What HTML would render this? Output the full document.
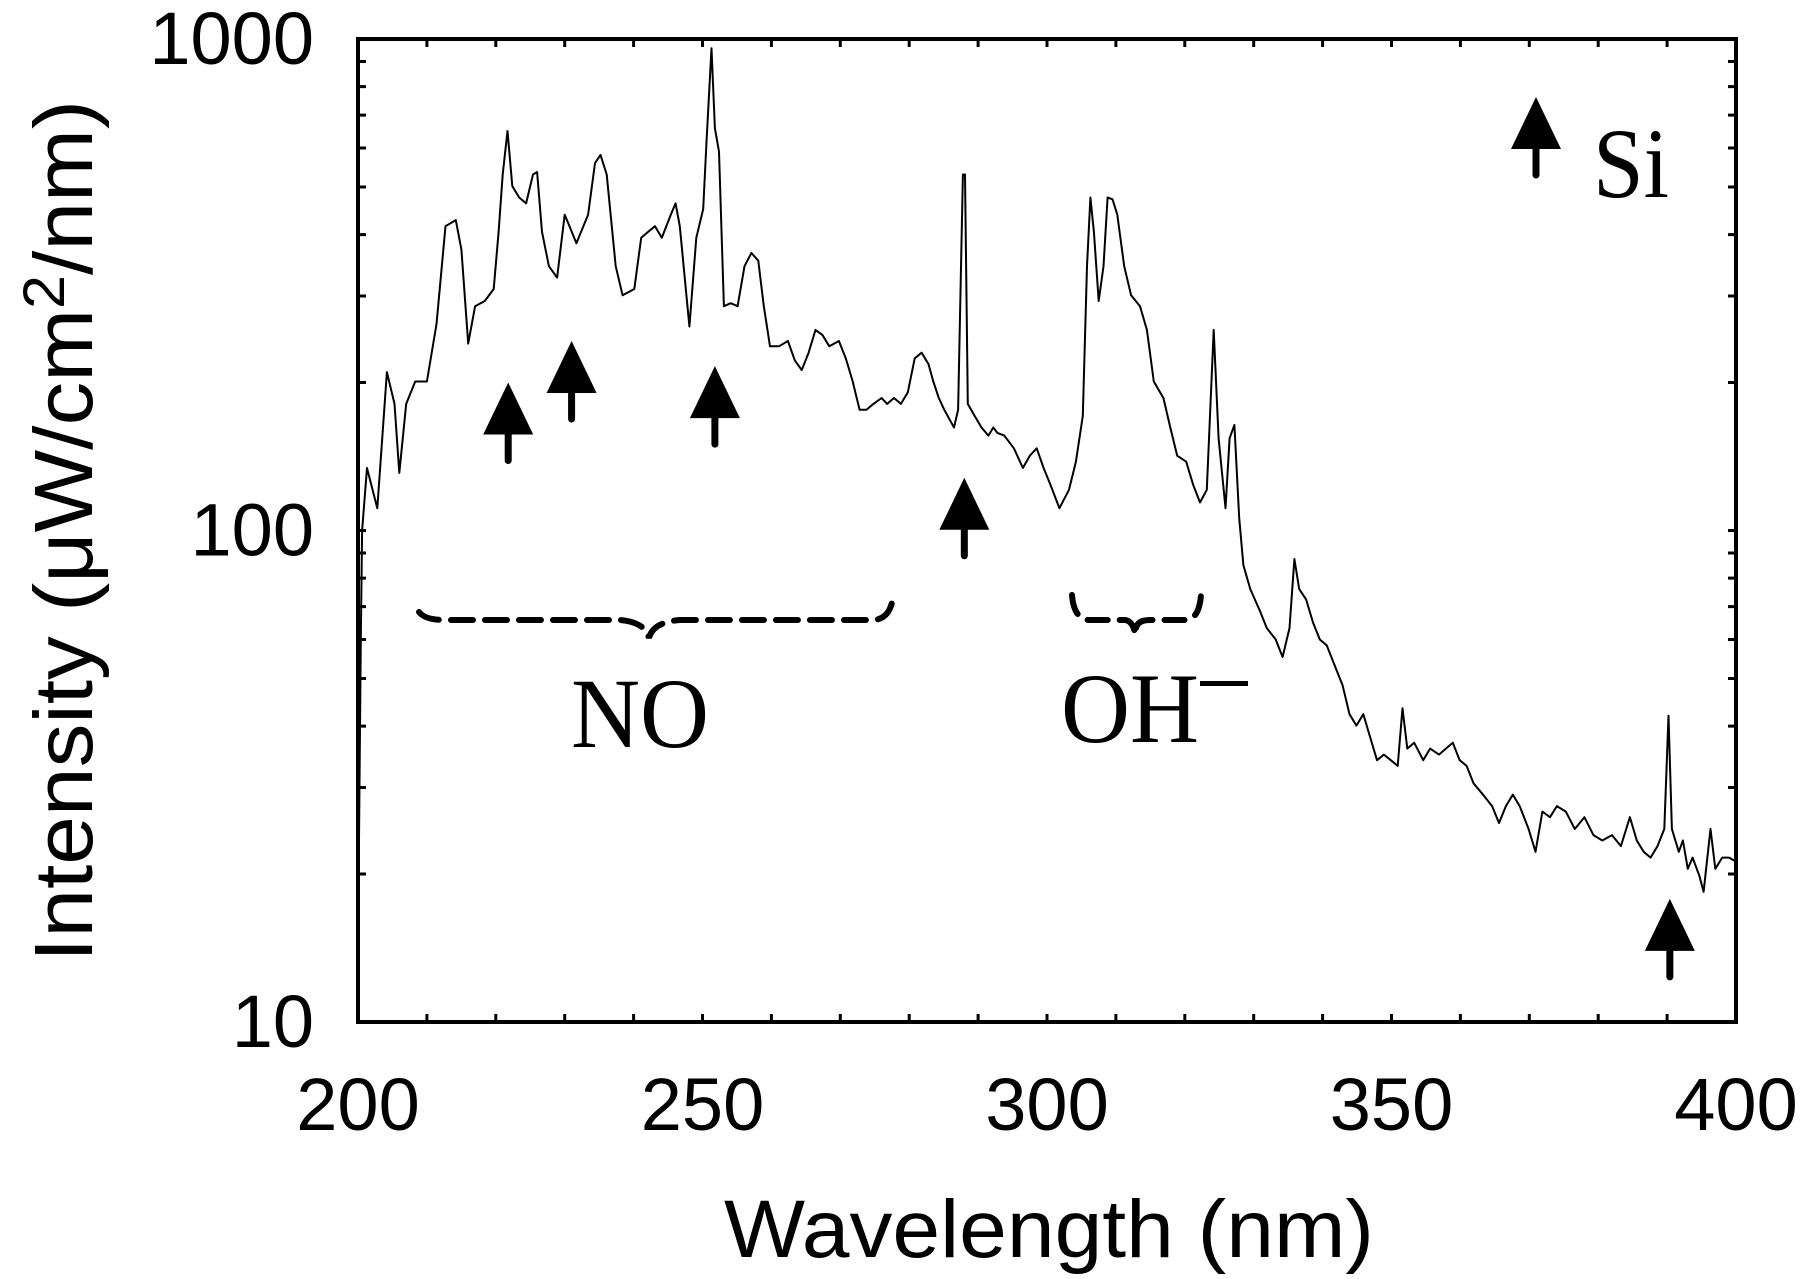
<!DOCTYPE html>
<html><head><meta charset="utf-8"><style>
html,body{margin:0;padding:0;background:#fff}
svg{display:block}
</style></head><body>
<svg id="chart" width="1804" height="1279" viewBox="0 0 1804 1279" xmlns="http://www.w3.org/2000/svg">
<g id="ticks"></g>
<path id="series" fill="none" stroke="#000" stroke-width="2" stroke-linejoin="round"/>
<rect x="358" y="39" width="1378" height="983" fill="none" stroke="#000" stroke-width="4"/>
<g id="labels" font-family="Liberation Sans, sans-serif" fill="#000"></g>
<text x="1049" y="1257" font-family="Liberation Sans, sans-serif" font-size="82" text-anchor="middle" textLength="650" lengthAdjust="spacingAndGlyphs">Wavelength (nm)</text>
<text transform="translate(92,531) rotate(-90)" font-family="Liberation Sans, sans-serif" font-size="83" text-anchor="middle" textLength="862" lengthAdjust="spacingAndGlyphs">Intensity (μW/cm<tspan font-size="58" dy="-28">2</tspan><tspan dy="28">/nm)</tspan></text>
<g id="arrows" fill="#000" stroke="#000"></g>
<text x="1593" y="197" font-family="Liberation Serif, serif" font-size="100" textLength="76" lengthAdjust="spacingAndGlyphs">Si</text>
<path d="M419,612 Q425,620 445,620 L620,620 Q645,622 649,638 Q653,622 680,620 L872,620 Q890,620 893,597" fill="none" stroke="#000" stroke-width="6" stroke-dasharray="22,12" stroke-linecap="round"/>
<path d="M1072,595 Q1074,620 1090,620 L1125,620 Q1135,621 1136,642 M1136,628 Q1138,620 1150,620 L1185,620 Q1199,620 1201,595" fill="none" stroke="#000" stroke-width="6" stroke-dasharray="20,12" stroke-linecap="round"/>
<text x="571" y="747" font-family="Liberation Serif, serif" font-size="100" textLength="138" lengthAdjust="spacingAndGlyphs">NO</text>
<text x="1061" y="742" font-family="Liberation Serif, serif" font-size="100" textLength="138" lengthAdjust="spacingAndGlyphs">OH</text>
<rect x="1200" y="681" width="48" height="5" fill="#000"/>
</svg>
<script>
const wavelengths = [200.1,200.4,200.6,201.3,202.8,204.2,205.3,206.0,207.0,208.3,210.0,211.4,212.7,214.2,215.0,216.0,217.0,218.4,219.7,220.4,221.0,221.7,222.4,223.4,224.4,225.4,226.0,226.7,227.7,228.9,230.0,230.7,231.7,233.4,234.4,235.2,236.1,237.4,238.4,240.1,241.1,242.1,243.1,244.1,245.4,246.1,246.7,248.1,249.1,250.1,250.6,251.3,251.8,252.4,253.1,254.1,255.1,256.1,257.1,258.1,258.9,259.8,261.1,262.4,263.4,264.4,265.4,266.4,267.4,268.4,269.8,270.8,271.8,272.8,273.8,274.8,276.0,276.8,277.8,278.8,279.8,280.8,281.8,282.8,283.5,284.3,285.1,286.5,287.1,287.8,288.1,288.5,289.5,290.5,291.5,292.2,292.8,293.8,295.2,296.5,297.5,298.5,299.5,300.5,301.8,303.2,304.2,305.2,305.8,306.3,306.8,307.5,308.2,308.8,309.5,310.2,311.2,312.2,313.5,314.5,315.5,316.9,317.9,318.9,320.2,321.2,322.2,323.2,324.2,324.9,325.9,326.5,327.2,327.9,328.5,329.5,330.9,331.9,333.2,334.2,335.2,335.9,336.6,337.6,338.6,339.6,340.6,341.9,342.9,343.9,344.9,345.9,346.9,347.9,348.9,349.9,350.9,351.6,352.3,353.3,354.6,355.6,356.9,357.9,358.9,359.9,360.9,361.9,363.3,364.6,365.6,366.6,367.6,368.6,369.9,370.9,371.9,373.0,374.0,375.3,376.6,378.0,379.3,380.6,382.0,383.3,384.6,385.6,386.6,387.6,388.6,389.6,390.2,390.7,391.7,392.3,393.0,393.7,394.7,395.3,396.3,397.0,398.0,399.0,400.0];
const intensities = [20,60,100,134,111,210,181,131,181,201,201,263,416,428,373,240,286,293,310,405,530,650,502,476,463,530,536,405,345,327,439,416,384,439,559,581,530,345,301,310,394,405,416,394,439,463,416,260,394,451,623,958,658,590,286,290,286,345,367,354,286,237,237,243,222,212,230,256,250,237,243,224,201,176,176,181,186,181,186,181,191,224,230,218,201,186,176,162,176,530,530,181,171,162,156,162,158,156,147,134,142,147,134,124,111,121,138,171,345,476,405,293,345,476,472,439,345,301,286,256,201,186,162,142,138,124,114,121,256,154,111,154,164,106,85,76,68.6,63.3,60,55.3,63.3,87.5,76,72.4,65,60,58.4,52.5,48.4,42.3,40.1,42.3,38,34.1,35,34.1,33.2,43.5,36,37,34.1,36,35,36,37,34.1,33.2,30.6,29,27.5,25.4,27.5,29,27.5,24.7,22.2,26.8,26.1,27.5,26.8,24.7,26.1,24,23.4,24,22.8,26.1,23.4,22.2,21.6,22.8,24.7,42,24.7,22.2,23.4,20.5,21.6,19.8,18.4,24.7,20.5,21.6,21.6,21.2];
const xTickLabels = ["200","250","300","350","400"];
const yTickLabels = ["10","100","1000"];
const siArrowWavelengths = [221.8,231.0,251.8,288.0,390.4];
const siArrowTips = [200,243,216,128,17.8];

const L=358,R=1736,T=39,B=1022;
const xS = w => L + (w-200)/(400-200)*(R-L);
const yS = v => B - (Math.log10(v)-1)/2*(B-T);
const NS='http://www.w3.org/2000/svg';

let d='';
wavelengths.forEach((w,i)=>{d+=(i?'L':'M')+xS(w).toFixed(1)+','+yS(intensities[i]).toFixed(1);});
document.getElementById('series').setAttribute('d',d);

const tg=document.getElementById('ticks');
let td='';
for(let w=210;w<400;w+=10){const x=xS(w);td+=`M${x},${B}v-8M${x},${T}v8`;}
for(let dec=10;dec<1000;dec*=10){for(let k=2;k<=9;k++){const y=yS(dec*k);td+=`M${L},${y}h8M${R},${y}h-8`;}}
[100].forEach(v=>{const y=yS(v);td+=`M${L},${y}h8M${R},${y}h-8`;});
const tp=document.createElementNS(NS,'path');
tp.setAttribute('d',td);tp.setAttribute('stroke','#000');tp.setAttribute('stroke-width','3');


tg.appendChild(tp);

const lg=document.getElementById('labels');
xTickLabels.forEach(s=>{
  const t=document.createElementNS(NS,'text');
  t.setAttribute('x',xS(+s));t.setAttribute('y',1130);t.setAttribute('font-size','74');t.setAttribute('text-anchor','middle');
  t.textContent=s;
  
  
  lg.appendChild(t);
});
yTickLabels.forEach(s=>{
  const t=document.createElementNS(NS,'text');
  t.setAttribute('x',314);t.setAttribute('y',yS(+s)+25);t.setAttribute('font-size','74');t.setAttribute('text-anchor','end');
  t.textContent=s;
  
  
  lg.appendChild(t);
});

const ag=document.getElementById('arrows');
function arrow(x,top,name){
  const g=document.createElementNS(NS,'g');
  
  
  const p=document.createElementNS(NS,'path');
  p.setAttribute('d',`M${x},${top}L${x+25},${top+52}L${x-25},${top+52}Z`);p.setAttribute('stroke','none');
  const s=document.createElementNS(NS,'line');
  s.setAttribute('x1',x);s.setAttribute('x2',x);s.setAttribute('y1',top+45);s.setAttribute('y2',top+78);
  s.setAttribute('stroke-width','7');s.setAttribute('stroke-linecap','round');
  g.appendChild(p);g.appendChild(s);ag.appendChild(g);
}
siArrowWavelengths.forEach((w,i)=>arrow(xS(w),yS(siArrowTips[i]),'si-line-arrow'));
arrow(1536,97,'legend-si-arrow');
</script>
</body></html>
